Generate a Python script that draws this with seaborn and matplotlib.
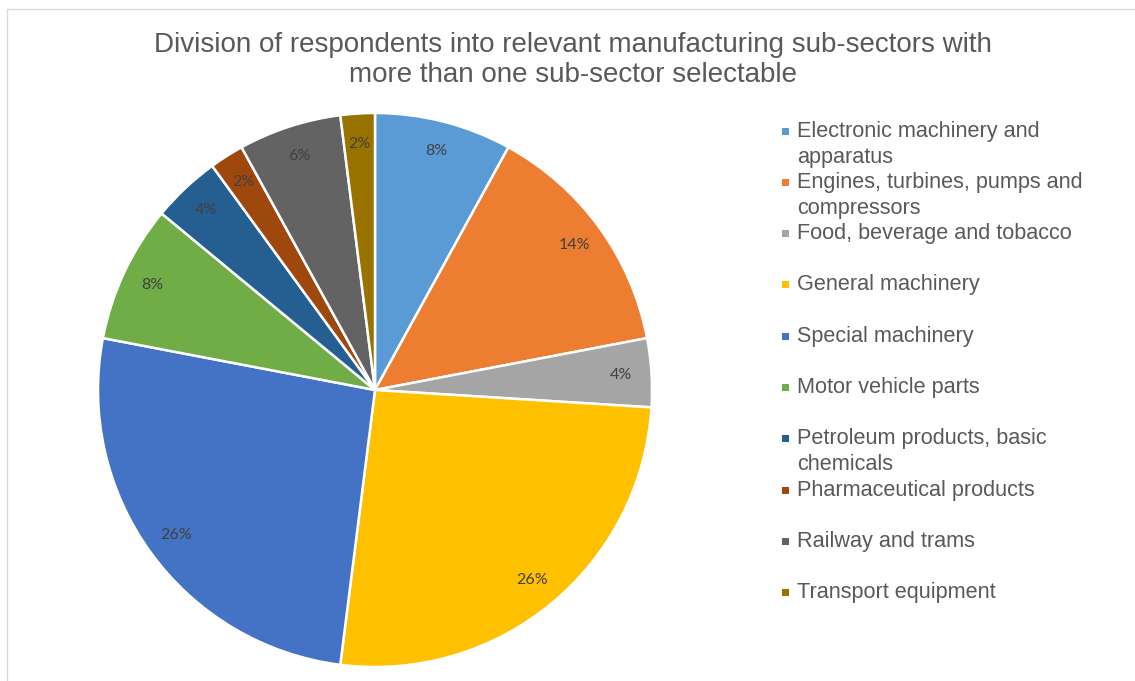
import matplotlib
matplotlib.use("Agg")
import matplotlib.pyplot as plt
import matplotlib.patches as mpatches
import seaborn as sns

sns.set_style("white")
plt.rcParams['font.family'] = ['Liberation Sans', 'DejaVu Sans']

# data: respondent counts per sub-sector (50 in total)
sectors = [
    "Electronic machinery and\napparatus",
    "Engines, turbines, pumps and\ncompressors",
    "Food, beverage and tobacco",
    "General machinery",
    "Special machinery",
    "Motor vehicle parts",
    "Petroleum products, basic\nchemicals",
    "Pharmaceutical products",
    "Railway and trams",
    "Transport equipment",
]
counts = [4, 7, 2, 13, 13, 4, 2, 1, 3, 1]
colors = ["#5B9BD5", "#ED7D31", "#A5A5A5", "#FFC000", "#4472C4",
          "#70AD47", "#255E91", "#9E480E", "#636363", "#997300"]

title = ("Division of respondents into relevant manufacturing sub-sectors with\n"
         "more than one sub-sector selectable")

W, H = 1135, 681
fig = plt.figure(figsize=(W / 100, H / 100), dpi=100)

# chart frame
fig.patches.append(mpatches.Rectangle((7 / W, -0.01), 1.02, 1 - 9 / H + 0.01,
                                      transform=fig.transFigure, fill=False,
                                      edgecolor="#D9D9D9", linewidth=1))

# pie: centre (375, 390) px, radius 277 px
cx, cy, r = 375, 390, 277
ax = fig.add_axes([(cx - r) / W, (H - cy - r) / H, 2 * r / W, 2 * r / H])
wedges, texts, autotexts = ax.pie(
    counts, colors=colors, startangle=90, counterclock=False,
    autopct=lambda p: f"{p:.0f}%", pctdistance=0.89,
    wedgeprops=dict(edgecolor="white", linewidth=1.8),
    textprops=dict(fontsize=11.5, color="#404040", family=["Lato", "DejaVu Sans"]))
ax.set_xlim(-1, 1)
ax.set_ylim(-1, 1)
ax.set_aspect("auto")
ax.axis("off")

fig.text(573 / W, 1 - 60 / H, title, ha="center", va="center",
         fontsize=20, color="#595959", linespacing=1.18)

# legend, drawn by hand so entries keep Excel's even spacing
y0, step, line_h = 131, 51.3, 26
for i, (name, col) in enumerate(zip(sectors, colors)):
    y = y0 + i * step
    fig.patches.append(mpatches.Rectangle((782 / W, 1 - (y + 3.5) / H), 7 / W, 7 / H,
                                          transform=fig.transFigure,
                                          facecolor=col, edgecolor="none"))
    for k, line in enumerate(name.split("\n")):
        fig.text(797 / W, 1 - (y + k * line_h) / H, line, ha="left", va="center",
                 fontsize=15.6, color="#595959")

fig.savefig("out.png", dpi=100)
